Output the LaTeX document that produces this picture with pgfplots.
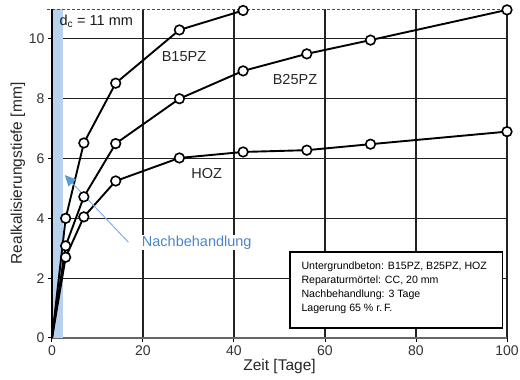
\documentclass[border=0pt]{standalone}
\usepackage{pgfplots}
\pgfplotsset{compat=1.18}
\usepackage{fontspec}
\setmainfont{Liberation Sans}
\usetikzlibrary{arrows.meta}
\definecolor{band}{HTML}{B8D2EE}
\definecolor{arr}{HTML}{7FB0E0}
\definecolor{arrh}{HTML}{5B9BD5}
\definecolor{txtblue}{HTML}{4A86C8}
\definecolor{gridc}{HTML}{222222}
\begin{document}
\begin{tikzpicture}[x=1pt,y=1pt]
\useasboundingbox (-52,-42) rectangle (468,338);
\begin{axis}[
  at={(0,0)}, anchor=south west,
  scale only axis, width=455pt, height=329pt,
  xmin=0, xmax=100, ymin=0, ymax=11,
  xtick={0,20,...,100}, ytick={0,2,...,10},
  axis x line*=bottom, axis y line*=left,
  axis line style={-, line width=1pt},
  x axis line style={draw=black!60, line width=1.8pt},
  grid=major,
  major grid style={draw=gridc, line width=1.1pt},
  tick style={draw=black, line width=1pt},
  tick align=outside, major tick length=4pt,
  /pgf/number format/assume math mode=true,
  ticklabel style={font=\fontsize{14}{16}\selectfont, text=black!80},
  xlabel={Zeit [Tage]}, ylabel={Realkalisierungstiefe [mm]},
  label style={font=\fontsize{15.5}{17}\selectfont, text=black!85},
  xlabel style={yshift=3pt},
  ylabel style={yshift=-3pt},
  clip=false,
  every axis plot/.append style={line width=1.9pt, black},
  mymark/.style={mark=*, mark size=4.8pt, mark indices={2,...,9}, mark options={solid, fill=white, draw=black, line width=1.6pt}},
]
% band
\addplot[draw=none, fill=band, line width=0pt] coordinates {(0,0) (2.5,0) (2.5,11) (0,11)} -- cycle;
% top dashed line
\addplot[black!70, line width=0.9pt, dash pattern=on 3pt off 2pt] coordinates {(-1,11) (100,11)};
% left axis redraw
\addplot[black, line width=1.6pt] coordinates {(0,0) (0,11)};
% info box
\draw[black, line width=1.6pt, fill=white] (axis cs:52.3,0.33) rectangle (axis cs:99,2.87);
\node[anchor=north west, align=left, font=\fontsize{10.6}{14}\selectfont, inner sep=0pt] at (axis cs:54.8,2.55)
  {Untergrundbeton: B15PZ, B25PZ, HOZ\\Reparaturmörtel: CC, 20 mm\\Nachbehandlung: 3 Tage\\Lagerung 65 \% r.\,F.};
% series
\addplot[mymark] coordinates {(0,0) (3,4.0) (7,6.52) (14,8.52) (28,10.3) (42,10.95)};
\addplot[mymark] coordinates {(0,0) (3,3.08) (7,4.72) (14,6.5) (28,8.0) (42,8.93) (56,9.5) (70,9.96) (100,10.97)};
\addplot[mymark] coordinates {(0,0) (3,2.7) (7,4.05) (14,5.25) (28,6.02) (42,6.22) (56,6.28) (70,6.48) (100,6.9)};
% labels
\node[font=\fontsize{14.5}{16}\selectfont, text=black!85] at (axis cs:29,9.4) {B15PZ};
\node[font=\fontsize{14.5}{16}\selectfont, text=black!85] at (axis cs:53.4,8.65) {B25PZ};
\node[font=\fontsize{14.5}{16}\selectfont, text=black!85] at (axis cs:34,5.5) {HOZ};
\node[anchor=west, font=\fontsize{14.5}{16}\selectfont, text=black!90, inner sep=1pt] at (axis cs:1.4,10.6) {d\textsubscript{c} = 11 mm};
\node[anchor=west, font=\fontsize{14.5}{16}\selectfont, text=txtblue, fill=white, inner sep=1pt] at (axis cs:19.5,3.2) {Nachbehandlung};
\draw[arr, line width=1pt, -{Triangle[length=11pt, width=10pt, fill=arrh, color=arrh]}] (axis cs:16.8,3.2) -- (axis cs:2.8,5.45);
\end{axis}
\end{tikzpicture}
\end{document}
